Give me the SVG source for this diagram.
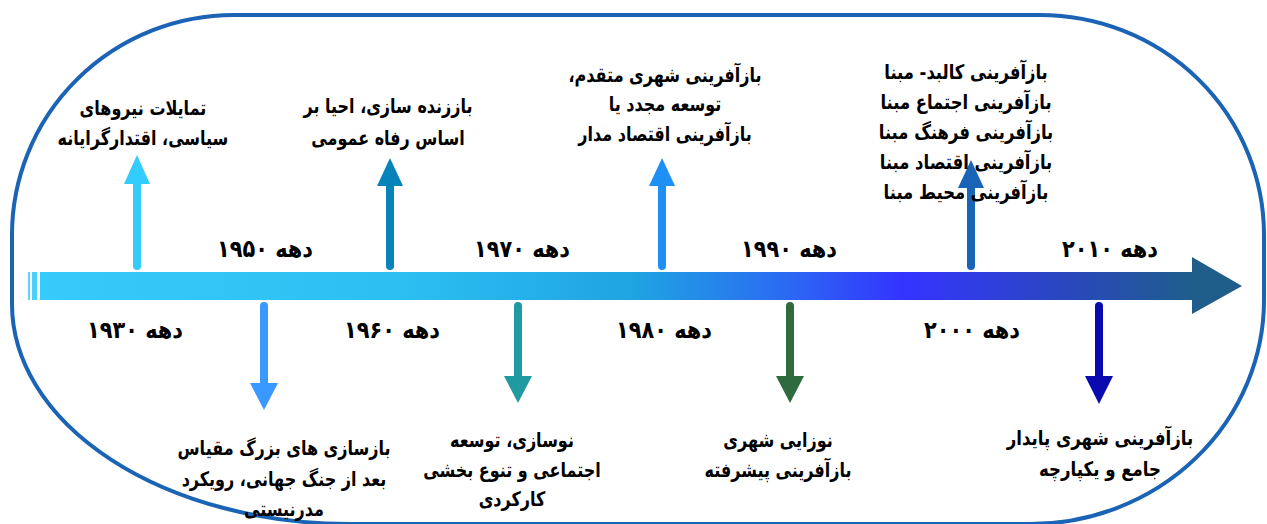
<svg xmlns="http://www.w3.org/2000/svg" width="1267" height="524" viewBox="0 0 1267 524">
<defs>
<linearGradient id="axisGrad" gradientUnits="userSpaceOnUse" x1="28" y1="0" x2="1242" y2="0">
<stop offset="0" stop-color="#36CBFA"/>
<stop offset="0.3" stop-color="#2CC0F2"/>
<stop offset="0.5" stop-color="#1EA4E2"/>
<stop offset="0.62" stop-color="#2B6CF2"/>
<stop offset="0.72" stop-color="#3434FF"/>
<stop offset="0.86" stop-color="#2948BC"/>
<stop offset="0.96" stop-color="#1F5E8C"/>
<stop offset="1" stop-color="#1F5E8A"/>
</linearGradient>
<style>
.t{font-family:"DejaVu Sans",sans-serif;font-weight:bold;fill:#000;text-anchor:middle;direction:rtl}
.lbl{font-size:20px}
.dec{font-size:24px}
.sh{stroke-width:8;stroke-linecap:round;fill:none}
</style>
</defs>
<rect width="1267" height="524" fill="#fff"/>
<path id="frame" d="M234,15 H1040 A224,220 0 0 1 1264,235 V300 A234,224 0 0 1 1030,524 H350 A338,220 0 0 1 12,304 V235 A222,220 0 0 1 234,15 Z" fill="none" stroke="#1B63B5" stroke-width="4"/>
<g id="timeline">
<rect x="28" y="272" width="2" height="28" fill="#5DD6FF"/>
<rect x="32" y="272" width="5" height="28" fill="#4BD0FC"/>
<path d="M40,272 H1192 V257 L1242,286 L1192,314 V300 H40 Z" fill="url(#axisGrad)"/>
</g>
<g id="connectors">
<line class="sh" x1="137" y1="266" x2="137" y2="182" stroke="#33CCFF"/>
<polygon points="124,184 137,155 150,184" fill="#33CCFF"/>
<line class="sh" x1="390" y1="266" x2="390" y2="185" stroke="#0684BA"/>
<polygon points="377,186 390,158 403,186" fill="#0684BA"/>
<line class="sh" x1="662" y1="266" x2="662" y2="185" stroke="#1E8FF5"/>
<polygon points="649,186 662,158 675,186" fill="#1E8FF5"/>
<line class="sh" x1="971" y1="266" x2="971" y2="187" stroke="#1A64B7"/>
<polygon points="958,188 971,160 984,188" fill="#1A64B7"/>
<line class="sh" x1="264" y1="306" x2="264" y2="385" stroke="#3A99FF"/>
<polygon points="250,383 264,410 278,383" fill="#3A99FF"/>
<line class="sh" x1="518" y1="306" x2="518" y2="378" stroke="#1F9AA0"/>
<polygon points="504,376 518,403 532,376" fill="#1F9AA0"/>
<line class="sh" x1="790" y1="306" x2="790" y2="378" stroke="#2E6B3F"/>
<polygon points="776,376 790,403 804,376" fill="#2E6B3F"/>
<line class="sh" x1="1099" y1="306" x2="1099" y2="378" stroke="#0A0AB0"/>
<polygon points="1085,376 1099,404 1113,376" fill="#0A0AB0"/>
</g>
<g id="decades">
<text class="t dec" x="265" y="257" transform="matrix(0.87,0,0,1,34.45,0)">دهه ۱۹۵۰</text>
<text class="t dec" x="522" y="257" transform="matrix(0.87,0,0,1,67.86,0)">دهه ۱۹۷۰</text>
<text class="t dec" x="789" y="257" transform="matrix(0.87,0,0,1,102.57,0)">دهه ۱۹۹۰</text>
<text class="t dec" x="1110" y="257" transform="matrix(0.87,0,0,1,144.3,0)">دهه ۲۰۱۰</text>
<text class="t dec" x="135" y="338" transform="matrix(0.87,0,0,1,17.55,0)">دهه ۱۹۳۰</text>
<text class="t dec" x="392" y="338" transform="matrix(0.87,0,0,1,50.96,0)">دهه ۱۹۶۰</text>
<text class="t dec" x="664" y="338" transform="matrix(0.87,0,0,1,86.32,0)">دهه ۱۹۸۰</text>
<text class="t dec" x="972" y="338" transform="matrix(0.87,0,0,1,126.36,0)">دهه ۲۰۰۰</text>
</g>
<g id="node-1930s" transform="matrix(0.8,0,0,1,28.6,0)">
<text class="t lbl" x="143" y="115">تمایلات نیروهای</text>
<text class="t lbl" x="143" y="145">سیاسی، اقتدارگرایانه</text>
</g>
<g id="node-1950s" transform="matrix(0.8,0,0,1,77.6,0)">
<text class="t lbl" x="388" y="113">باززنده سازی، احیا بر</text>
<text class="t lbl" x="388" y="145">اساس رفاه عمومی</text>
</g>
<g id="node-1970s" transform="matrix(0.8,0,0,1,133,0)">
<text class="t lbl" x="665" y="82">بازآفرینی شهری متقدم،</text>
<text class="t lbl" x="665" y="111">توسعه مجدد یا</text>
<text class="t lbl" x="665" y="141">بازآفرینی اقتصاد مدار</text>
</g>
<g id="node-1990s" transform="matrix(0.82,0,0,1,173.88,0)">
<text class="t lbl" x="966" y="79">بازآفرینی کالبد- مبنا</text>
<text class="t lbl" x="966" y="109">بازآفرینی اجتماع مبنا</text>
<text class="t lbl" x="966" y="139">بازآفرینی فرهنگ مبنا</text>
<text class="t lbl" x="966" y="169">بازآفرینی اقتصاد مبنا</text>
<text class="t lbl" x="966" y="199">بازآفرینی محیط مبنا</text>
</g>
<g id="node-1940s" transform="matrix(0.8,0,0,1,56.8,0)">
<text class="t lbl" x="284" y="455">بازسازی های بزرگ مقیاس</text>
<text class="t lbl" x="284" y="486">بعد از جنگ جهانی، رویکرد</text>
<text class="t lbl" x="284" y="516">مدرنیستی</text>
</g>
<g id="node-1960s" transform="matrix(0.8,0,0,1,102.4,0)">
<text class="t lbl" x="512" y="447">نوسازی، توسعه</text>
<text class="t lbl" x="512" y="477">اجتماعی و تنوع بخشی</text>
<text class="t lbl" x="512" y="506">کارکردی</text>
</g>
<g id="node-1980s" transform="matrix(0.8,0,0,1,155.6,0)">
<text class="t lbl" x="778" y="447">نوزایی شهری</text>
<text class="t lbl" x="778" y="477">بازآفرینی پیشرفته</text>
</g>
<g id="node-2000s" transform="matrix(0.83,0,0,1,187,0)">
<text class="t lbl" x="1100" y="445">بازآفرینی شهری پایدار</text>
<text class="t lbl" x="1100" y="476">جامع و یکپارچه</text>
</g>
</svg>
